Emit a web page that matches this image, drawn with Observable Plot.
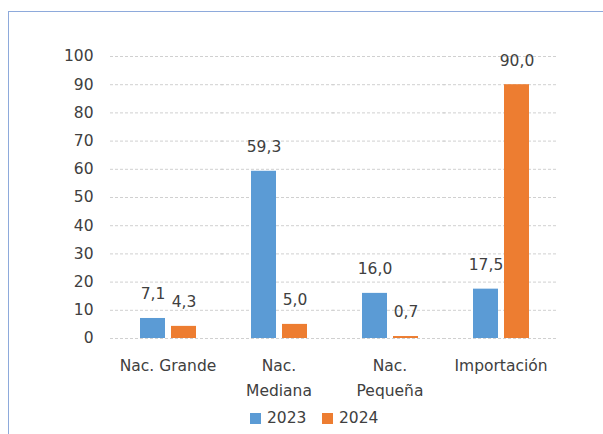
<!DOCTYPE html>
<html><head><meta charset="utf-8">
<script src="https://cdn.jsdelivr.net/npm/d3@7"></script>
<script src="https://cdn.jsdelivr.net/npm/@observablehq/plot@0.6"></script>
<style>
body{margin:0;background:#fff;font-family:"DejaVu Sans",sans-serif;}
#wrap{position:relative;width:603px;height:434px;overflow:hidden;background:#fff;}
#frame{position:absolute;left:8px;top:11px;width:700px;height:600px;border:1px solid #8eaadb;box-sizing:border-box;pointer-events:none;}
#chart{position:absolute;left:0;top:0;}
.leg{position:absolute;top:408px;font-size:15.5px;color:#404040;line-height:20px;white-space:nowrap;}
.sw{display:inline-block;width:11px;height:11px;margin-right:6px;vertical-align:-1px;}
</style>
</head><body>
<div id="wrap"><div id="frame"></div><div id="chart"></div>
<div id="legend"></div></div>
<script>
const categories = ["Nac. Grande", "Nac.\nMediana", "Nac.\nPequeña", "Importación"];
const years = ["2023", "2024"];
const values2023 = [7.1, 59.3, 16.0, 17.5];
const values2024 = [4.3, 5.0, 0.7, 90.0];
const yTicks = [0, 10, 20, 30, 40, 50, 60, 70, 80, 90, 100];
const colors = ["#5B9BD5", "#ED7D31"];

const data = [];
categories.forEach((c, i) => {
  data.push({cat: c, year: years[0], value: values2023[i]});
  data.push({cat: c, year: years[1], value: values2024[i]});
});
const fmt = v => d3.format(".1f")(v).replace(".", ",");
const textColor = "#404040";
const fs = 15.5;

const chart = Plot.plot({
  width: 603,
  height: 434,
  marginLeft: 112,
  marginRight: 47,
  marginTop: 56,
  marginBottom: 96,
  style: {fontFamily: "DejaVu Sans, sans-serif", fontSize: fs + "px", color: textColor, background: "transparent"},
  fx: {domain: categories, paddingInner: 0, paddingOuter: 0, label: null},
  x: {domain: years, paddingInner: 0.194, paddingOuter: 0.887, axis: null, label: null},
  y: {domain: [0, 100], axis: null, label: null},
  color: {domain: years, range: colors},
  marks: [
    Plot.ruleY(yTicks, {y: d => d, stroke: "#d0d0d0", strokeDasharray: "3,2", insetLeft: -2, insetRight: -1}),
    Plot.barY(data, {fx: "cat", x: "year", y: "value", fill: "year"}),
    Plot.text(data, {fx: "cat", x: "year", y: "value", text: d => fmt(d.value), dy: -24, fill: textColor, fontSize: fs}),
    Plot.axisY({ticks: yTicks, tickSize: 0, tickPadding: 19, fill: textColor, fontSize: fs, label: null}),
    Plot.axisFx({anchor: "bottom", tickSize: 0, tickPadding: 15, lineHeight: 1.62, fill: textColor, fontSize: fs, label: null})
  ]
});
document.getElementById("chart").appendChild(chart);

const legend = document.getElementById("legend");
const legX = [250, 322];
years.forEach((y, i) => {
  const d = document.createElement("div");
  d.className = "leg";
  d.style.left = legX[i] + "px";
  d.innerHTML = `<span class="sw" style="background:${colors[i]}"></span>${y}`;
  legend.appendChild(d);
});
</script>
</body></html>
